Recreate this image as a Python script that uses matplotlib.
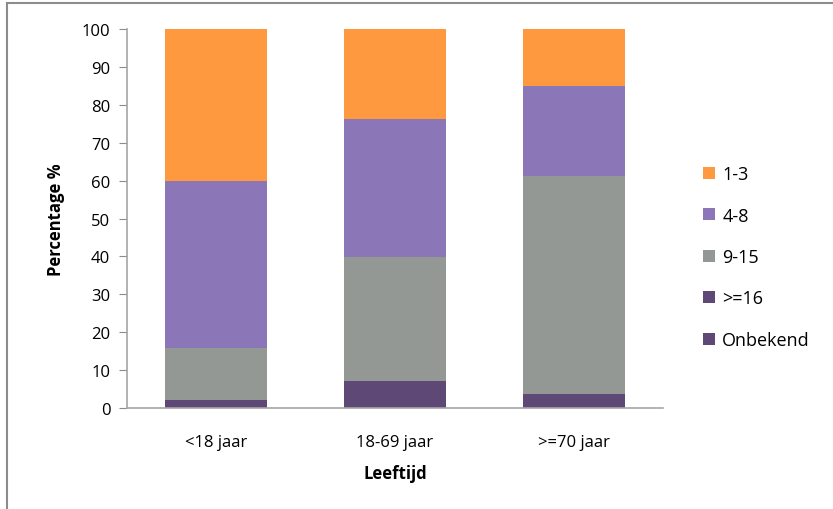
import matplotlib
matplotlib.use("Agg")
import matplotlib.pyplot as plt
from matplotlib.lines import Line2D
from matplotlib.patches import Patch

plt.rcParams['font.family'] = ['Open Sans', 'DejaVu Sans']

categories = ['<18 jaar', '18-69 jaar', '>=70 jaar']
onbekend = [0.0, 0.0, 0.0]
ge16 = [2.1, 7.0, 3.6]
v9_15 = [13.8, 32.8, 57.5]
v4_8 = [44.1, 36.5, 23.8]
v1_3 = [40.0, 23.7, 15.1]

series = [
    ('Onbekend', onbekend, '#5E4875'),
    ('>=16', ge16, '#5E4875'),
    ('9-15', v9_15, '#939894'),
    ('4-8', v4_8, '#8B77B7'),
    ('1-3', v1_3, '#FF9940'),
]

FS = 12
W, H = 833, 510
fig = plt.figure(figsize=(W / 100, H / 100), dpi=100)
ax = fig.add_axes([127 / W, (H - 409) / H, (663 - 127) / W, (409 - 30) / H])

x = list(range(len(categories)))
bottom = [0.0] * len(categories)
for name, vals, col in series:
    ax.bar(x, vals, width=0.57, bottom=bottom, color=col, edgecolor='none')
    bottom = [b + v for b, v in zip(bottom, vals)]

ax.set_xlim(-0.5, len(categories) - 0.5)
ax.set_ylim(0, 100)
ax.set_yticks(range(0, 101, 10))
ax.set_xticks(x)
ax.set_xticklabels(categories)
ax.tick_params(axis='y', direction='out', length=6, color='#8c8c8c', labelsize=FS, pad=6)
ax.tick_params(axis='x', length=0, labelsize=FS, pad=19)
for s in ['top', 'right']:
    ax.spines[s].set_visible(False)
for s in ['left', 'bottom']:
    ax.spines[s].set_color('#a6a6a6')
    ax.spines[s].set_linewidth(1.2)

ax.set_ylabel('Percentage %', fontsize=FS, fontweight='bold', labelpad=12)
ax.set_xlabel('Leeftijd', fontsize=FS, fontweight='bold', labelpad=10)

handles = [Patch(facecolor=col, edgecolor='none') for _, _, col in series[::-1]]
labels = [name for name, _, _ in series[::-1]]
fig.legend(handles, labels, loc='center left', bbox_to_anchor=(687 / W, 1 - 258 / H),
           frameon=False, fontsize=13, handlelength=0.65, handleheight=0.65,
           handletextpad=0.4, labelspacing=1.3)

# outer chart frame
fig.add_artist(Line2D([7 / W, 1], [1 - 4 / H, 1 - 4 / H], color='#8c8c8c', lw=1.5))
fig.add_artist(Line2D([7 / W, 7 / W], [0, 1 - 4 / H], color='#8c8c8c', lw=1.5))

fig.savefig('out.png', dpi=100)
